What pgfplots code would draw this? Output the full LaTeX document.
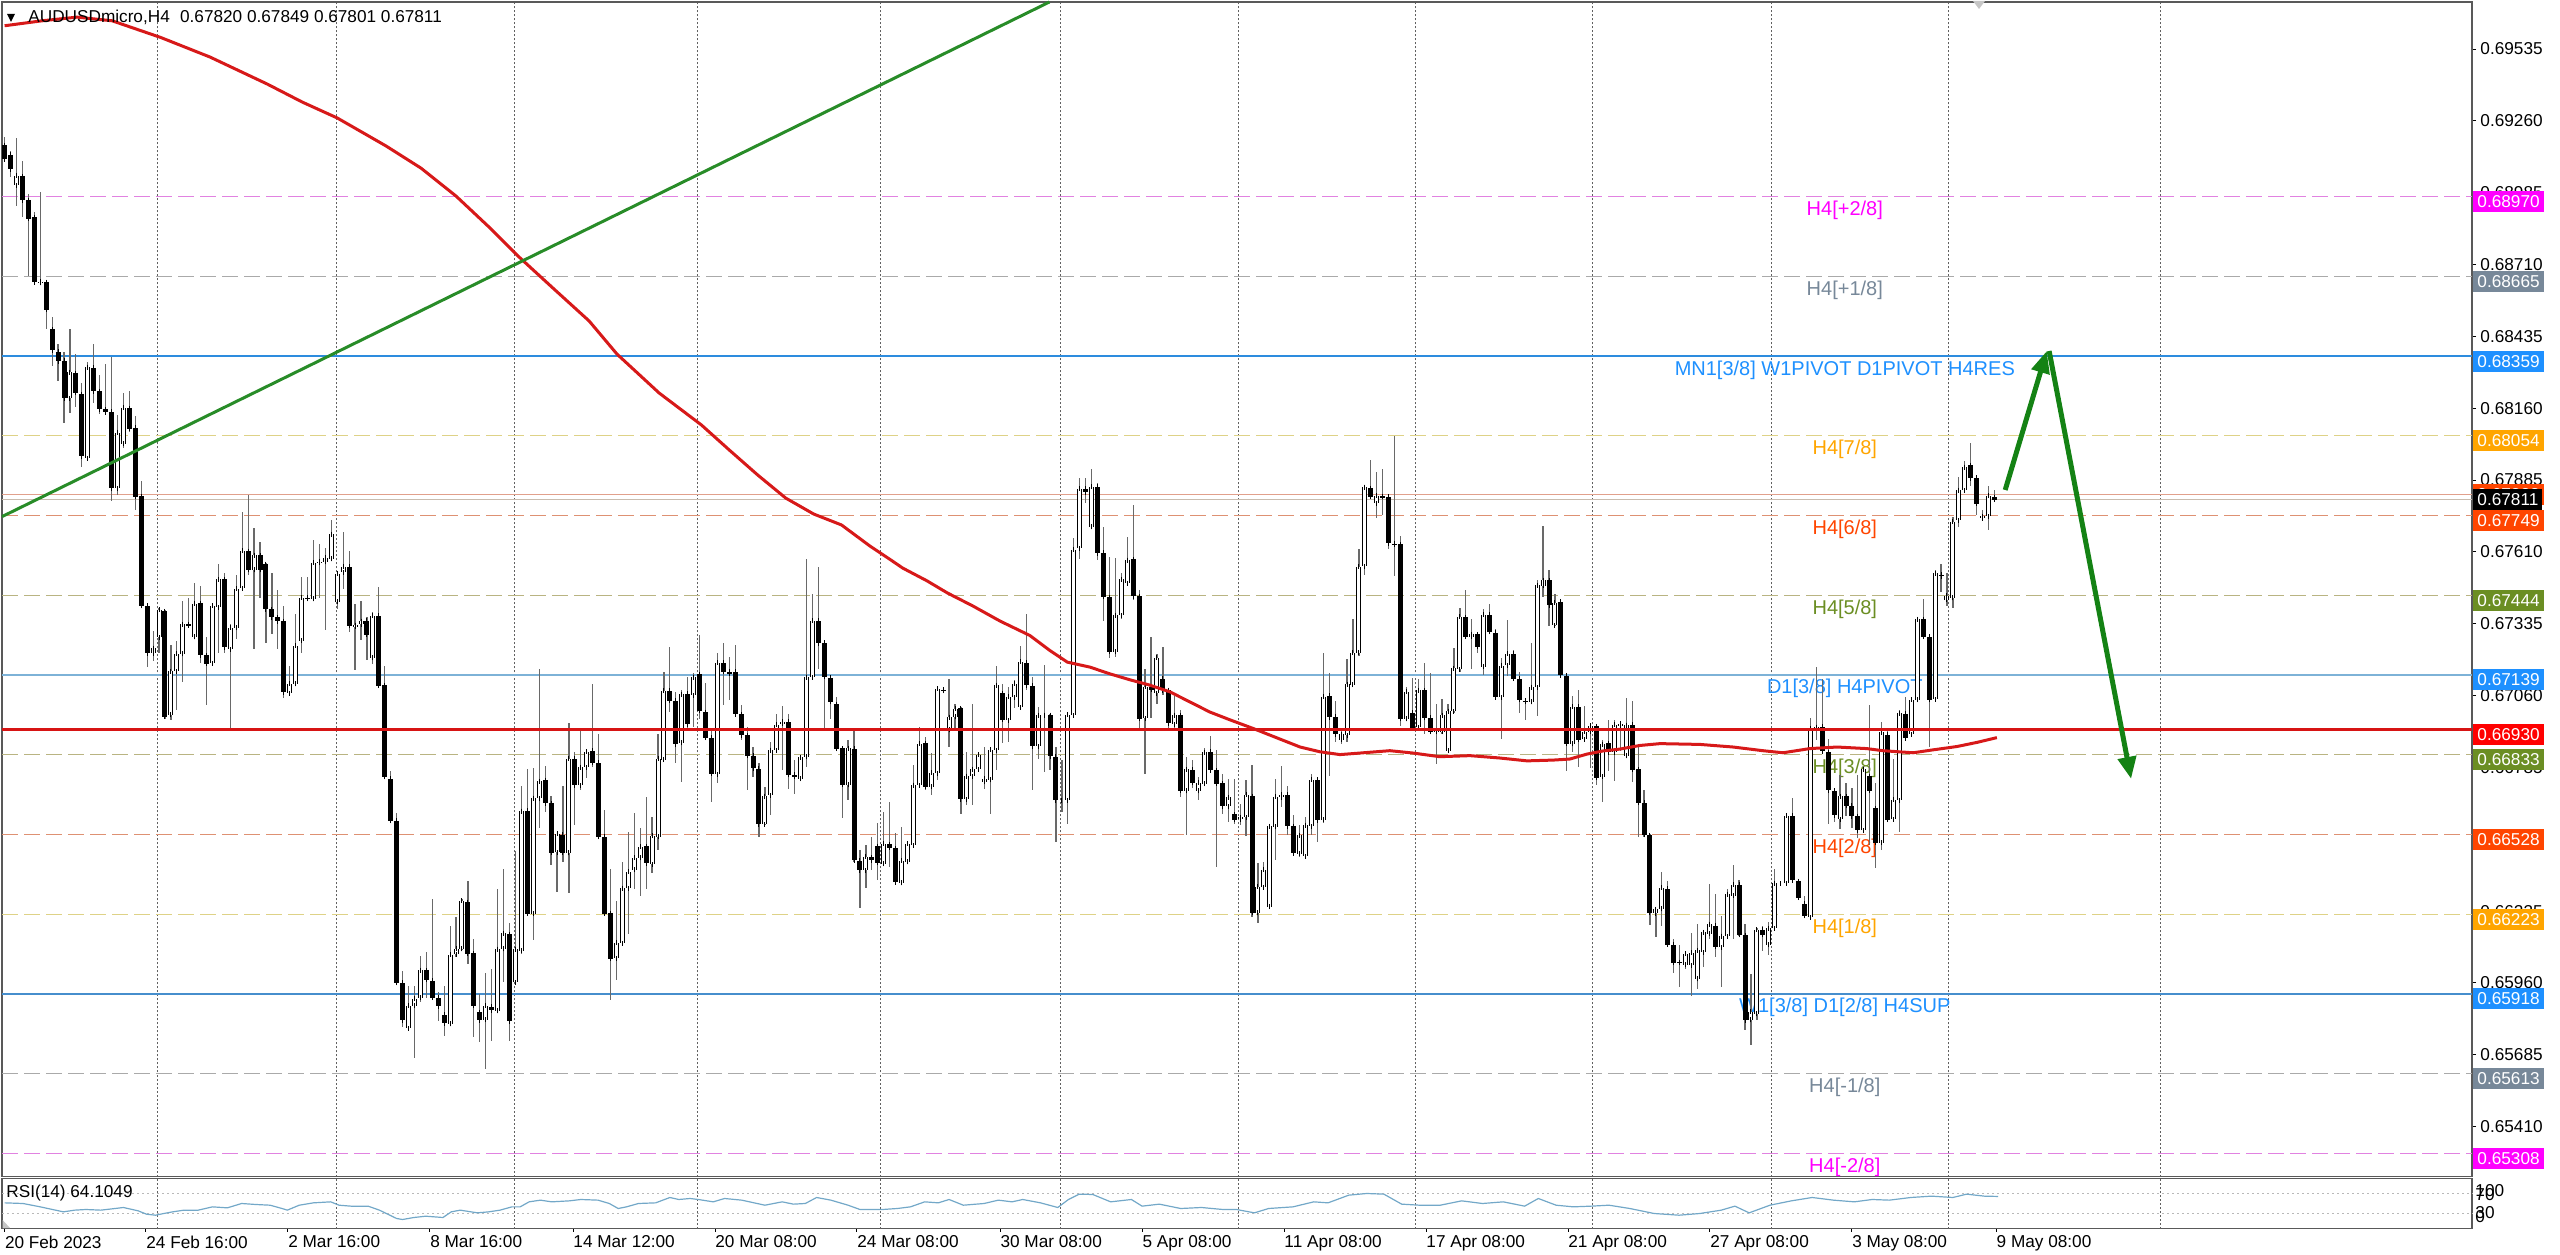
\documentclass[border=0pt]{standalone}
\usepackage{fontspec}
\setmainfont{Liberation Sans}
\usepackage{pgfplots}
\pgfplotsset{compat=1.18}
\usepackage{pgfplotstable}
\usetikzlibrary{arrows.meta}
\newcommand{\tickfont}{\fontsize{8.6}{10}\selectfont}
\newcommand{\lblfont}{\fontsize{10}{12}\selectfont}
\definecolor{mmag}{RGB}{255,0,255}
\definecolor{mgray}{RGB}{119,136,153}
\definecolor{mblue}{RGB}{30,144,255}
\definecolor{morange}{RGB}{255,165,0}
\definecolor{mored}{RGB}{255,69,0}
\definecolor{molive}{RGB}{107,142,35}
\definecolor{mred}{RGB}{255,0,0}
\definecolor{lmag}{RGB}{225,130,225}
\definecolor{lgray}{RGB}{170,170,170}
\definecolor{lyellow}{RGB}{222,210,135}
\definecolor{lsalmon}{RGB}{222,145,115}
\definecolor{lolive}{RGB}{185,180,130}
\definecolor{rsiblue}{RGB}{115,168,200}
\definecolor{wickc}{RGB}{105,105,105}
\definecolor{mared}{RGB}{215,25,25}
\definecolor{hred}{RGB}{215,20,20}
\definecolor{tgreen}{RGB}{40,140,40}
\definecolor{agreen}{RGB}{20,130,20}
\definecolor{bidc}{RGB}{200,188,175}
\definecolor{askc}{RGB}{225,160,140}
\definecolor{blueA}{RGB}{45,140,222}
\definecolor{blueB}{RGB}{70,142,205}
\definecolor{blueC}{RGB}{125,178,215}

\pgfplotstableread{
i o h l c
0 0.69169 0.69200 0.69106 0.69114
1 0.69130 0.69146 0.69044 0.69075
2 0.69015 0.69193 0.68934 0.69051
3 0.69048 0.69106 0.68894 0.68957
4 0.68957 0.68981 0.68667 0.68887
5 0.68891 0.68910 0.68639 0.68643
6 0.68640 0.68989 0.68636 0.68645
7 0.68643 0.68651 0.68463 0.68538
8 0.68463 0.68510 0.68322 0.68381
9 0.68377 0.68408 0.68267 0.68341
10 0.68341 0.68377 0.68102 0.68199
11 0.68199 0.68463 0.68141 0.68298
12 0.68295 0.68369 0.68165 0.68220
13 0.68215 0.68259 0.67937 0.67977
14 0.67969 0.68338 0.67961 0.68317
15 0.68314 0.68408 0.68181 0.68225
16 0.68225 0.68290 0.68141 0.68157
17 0.68157 0.68330 0.68141 0.68146
18 0.68146 0.68356 0.67804 0.67854
19 0.67854 0.68134 0.67828 0.68068
20 0.68024 0.68220 0.68008 0.68162
21 0.68162 0.68228 0.68071 0.68083
22 0.68086 0.68130 0.67773 0.67823
23 0.67823 0.67882 0.67396 0.67404
24 0.67404 0.67412 0.67168 0.67223
25 0.67223 0.67310 0.67192 0.67242
26 0.67283 0.67396 0.67223 0.67388
27 0.67383 0.67388 0.66972 0.66980
28 0.66988 0.67255 0.66965 0.67153
29 0.67153 0.67271 0.67004 0.67220
30 0.67220 0.67424 0.67113 0.67333
31 0.67333 0.67435 0.67325 0.67330
32 0.67286 0.67490 0.67278 0.67412
33 0.67415 0.67482 0.67184 0.67215
34 0.67215 0.67286 0.67027 0.67184
35 0.67184 0.67412 0.67176 0.67404
36 0.67399 0.67566 0.67223 0.67506
37 0.67506 0.67530 0.67223 0.67247
38 0.67239 0.67333 0.66933 0.67322
39 0.67321 0.67522 0.67278 0.67470
40 0.67470 0.67765 0.67467 0.67613
41 0.67613 0.67828 0.67522 0.67541
42 0.67541 0.67702 0.67239 0.67597
43 0.67597 0.67647 0.67435 0.67541
44 0.67564 0.67569 0.67263 0.67391
45 0.67391 0.67530 0.67294 0.67361
46 0.67361 0.67467 0.67239 0.67346
47 0.67346 0.67404 0.67051 0.67074
48 0.67070 0.67176 0.67067 0.67106
49 0.67106 0.67372 0.67101 0.67252
50 0.67271 0.67514 0.67223 0.67435
51 0.67435 0.67514 0.67428 0.67431
52 0.67431 0.67655 0.67428 0.67569
53 0.67569 0.67639 0.67435 0.67572
54 0.67572 0.67624 0.67310 0.67588
55 0.67584 0.67733 0.67584 0.67678
56 0.67420 0.67538 0.67390 0.67527
57 0.67533 0.67689 0.67469 0.67553
58 0.67553 0.67613 0.67303 0.67326
59 0.67326 0.67409 0.67159 0.67330
60 0.67333 0.67424 0.67273 0.67345
61 0.67348 0.67364 0.67197 0.67295
62 0.67205 0.67382 0.67182 0.67367
63 0.67367 0.67474 0.67094 0.67099
64 0.67099 0.67174 0.66743 0.66748
65 0.66743 0.66774 0.66574 0.66581
66 0.66581 0.66610 0.65956 0.65961
67 0.65961 0.66005 0.65793 0.65817
68 0.65787 0.65949 0.65783 0.65873
69 0.65873 0.65949 0.65672 0.65899
70 0.65904 0.66065 0.65888 0.66009
71 0.66009 0.66077 0.65904 0.65972
72 0.65969 0.66282 0.65896 0.65904
73 0.65904 0.65926 0.65813 0.65873
74 0.65839 0.65949 0.65757 0.65805
75 0.65805 0.66176 0.65798 0.66070
76 0.66070 0.66214 0.66059 0.66090
77 0.66090 0.66282 0.66085 0.66274
78 0.66271 0.66350 0.66032 0.66074
79 0.66074 0.66130 0.65752 0.65873
80 0.65848 0.65918 0.65733 0.65817
81 0.65820 0.65999 0.65631 0.65873
82 0.65869 0.66014 0.65737 0.65854
83 0.65854 0.66320 0.65848 0.66090
84 0.66090 0.66395 0.65964 0.66150
85 0.66146 0.66191 0.65737 0.65813
86 0.65964 0.66463 0.65956 0.66090
87 0.66085 0.66713 0.66070 0.66619
88 0.66619 0.66778 0.66221 0.66226
89 0.66226 0.66781 0.66123 0.66668
90 0.66668 0.67162 0.66554 0.66733
91 0.66736 0.66792 0.66615 0.66648
92 0.66648 0.66675 0.66413 0.66460
93 0.66460 0.66531 0.66308 0.66531
94 0.66528 0.66713 0.66425 0.66459
95 0.66459 0.66955 0.66305 0.66819
96 0.66819 0.66846 0.66566 0.66717
97 0.66717 0.66925 0.66701 0.66786
98 0.66786 0.66857 0.66746 0.66846
99 0.66849 0.67106 0.66789 0.66804
100 0.66804 0.66913 0.66513 0.66521
101 0.66521 0.66622 0.66221 0.66226
102 0.66229 0.66395 0.65896 0.66055
103 0.66055 0.66274 0.65972 0.66115
104 0.66112 0.66422 0.66108 0.66323
105 0.66323 0.66539 0.66146 0.66388
106 0.66395 0.66610 0.66320 0.66441
107 0.66441 0.66554 0.66292 0.66483
108 0.66483 0.66675 0.66320 0.66418
109 0.66415 0.66595 0.66380 0.66524
110 0.66521 0.66913 0.66468 0.66819
111 0.66816 0.67149 0.66816 0.67079
112 0.67079 0.67247 0.66998 0.67041
113 0.67041 0.67075 0.66803 0.66875
114 0.66880 0.67081 0.66730 0.67066
115 0.67068 0.67132 0.66928 0.66951
116 0.67062 0.67145 0.66941 0.67132
117 0.67142 0.67292 0.66969 0.67002
118 0.66998 0.67109 0.66892 0.66900
119 0.66900 0.66928 0.66654 0.66762
120 0.66760 0.67224 0.66724 0.67186
121 0.67186 0.67260 0.67024 0.67151
122 0.67151 0.67209 0.67043 0.67145
123 0.67151 0.67253 0.66979 0.66989
124 0.66989 0.67024 0.66892 0.66909
125 0.66909 0.66941 0.66701 0.66829
126 0.66829 0.66862 0.66750 0.66781
127 0.66781 0.66801 0.66520 0.66568
128 0.66568 0.66711 0.66565 0.66676
129 0.66679 0.66883 0.66603 0.66852
130 0.66852 0.66992 0.66845 0.66950
131 0.66954 0.67020 0.66775 0.66960
132 0.66960 0.66992 0.66705 0.66756
133 0.66756 0.66816 0.66686 0.66750
134 0.66743 0.66826 0.66737 0.66824
135 0.66826 0.67585 0.66788 0.67132
136 0.67130 0.67451 0.67126 0.67347
137 0.67347 0.67553 0.67164 0.67260
138 0.67262 0.67266 0.66928 0.67132
139 0.67130 0.67132 0.66969 0.67037
140 0.67028 0.67056 0.66852 0.66858
141 0.66858 0.66864 0.66590 0.66718
142 0.66718 0.66890 0.66660 0.66858
143 0.66858 0.66935 0.66424 0.66430
144 0.66428 0.66469 0.66246 0.66392
145 0.66392 0.66488 0.66322 0.66443
146 0.66441 0.66520 0.66392 0.66430
147 0.66484 0.66573 0.66354 0.66420
148 0.66418 0.66616 0.66411 0.66494
149 0.66492 0.66654 0.66405 0.66479
150 0.66475 0.66533 0.66335 0.66344
151 0.66344 0.66558 0.66341 0.66428
152 0.66424 0.66505 0.66418 0.66494
153 0.66488 0.66794 0.66482 0.66718
154 0.66718 0.66941 0.66705 0.66877
155 0.66877 0.66903 0.66701 0.66711
156 0.66711 0.66839 0.66679 0.66765
157 0.66765 0.67094 0.66737 0.67088
158 0.67084 0.67088 0.67075 0.67079
159 0.66928 0.67126 0.66864 0.66977
160 0.66979 0.67030 0.66928 0.67011
161 0.67011 0.67017 0.66609 0.66663
162 0.66663 0.66845 0.66641 0.66752
163 0.66752 0.67030 0.66641 0.66778
164 0.66778 0.66845 0.66769 0.66833
165 0.66730 0.66864 0.66705 0.66743
166 0.66739 0.66864 0.66609 0.66854
167 0.66852 0.67173 0.66775 0.67100
168 0.67069 0.67107 0.66880 0.66969
169 0.66966 0.67094 0.66884 0.67056
170 0.67056 0.67120 0.67011 0.67107
171 0.67017 0.67250 0.67005 0.67190
172 0.67186 0.67372 0.67081 0.67100
173 0.67098 0.67132 0.66699 0.66867
174 0.66867 0.67017 0.66816 0.66986
175 0.66986 0.67177 0.66769 0.66986
176 0.66986 0.66992 0.66775 0.66829
177 0.66826 0.66864 0.66501 0.66660
178 0.66660 0.66813 0.66616 0.66660
179 0.66660 0.66998 0.66571 0.66986
180 0.66986 0.67662 0.66979 0.67620
181 0.67624 0.67892 0.67585 0.67853
182 0.67853 0.67892 0.67796 0.67840
183 0.67706 0.67926 0.67704 0.67860
184 0.67860 0.67875 0.67578 0.67607
185 0.67607 0.67706 0.67347 0.67438
186 0.67438 0.67592 0.67202 0.67228
187 0.67228 0.67585 0.67209 0.67368
188 0.67368 0.67528 0.67352 0.67505
189 0.67490 0.67668 0.67483 0.67578
190 0.67581 0.67789 0.67426 0.67441
191 0.67441 0.67464 0.66935 0.66973
192 0.66973 0.67164 0.66762 0.67094
193 0.67094 0.67283 0.66973 0.67084
194 0.67069 0.67222 0.67030 0.67206
195 0.67126 0.67247 0.67062 0.67081
196 0.67081 0.67088 0.66928 0.66954
197 0.66951 0.67058 0.66935 0.66986
198 0.66986 0.67005 0.66671 0.66696
199 0.66696 0.66824 0.66526 0.66778
200 0.66778 0.66813 0.66705 0.66727
201 0.66696 0.66750 0.66663 0.66727
202 0.66724 0.66858 0.66718 0.66845
203 0.66845 0.66905 0.66772 0.66775
204 0.66775 0.66854 0.66405 0.66724
205 0.66724 0.66762 0.66609 0.66637
206 0.66637 0.66739 0.66577 0.66671
207 0.66607 0.66743 0.66568 0.66586
208 0.66586 0.66647 0.66565 0.66594
209 0.66594 0.66737 0.66522 0.66680
210 0.66676 0.66794 0.66214 0.66229
211 0.66229 0.66420 0.66188 0.66328
212 0.66328 0.66424 0.66322 0.66395
213 0.66254 0.66565 0.66252 0.66561
214 0.66558 0.66739 0.66431 0.66673
215 0.66671 0.66790 0.66635 0.66680
216 0.66680 0.66714 0.66526 0.66561
217 0.66561 0.66603 0.66450 0.66456
218 0.66456 0.66565 0.66443 0.66526
219 0.66446 0.66596 0.66443 0.66565
220 0.66561 0.66762 0.66526 0.66739
221 0.66739 0.66750 0.66501 0.66584
222 0.66584 0.67222 0.66571 0.67056
223 0.67060 0.67146 0.66751 0.66979
224 0.66979 0.67041 0.66882 0.66913
225 0.66892 0.66929 0.66876 0.66913
226 0.66909 0.67203 0.66882 0.67103
227 0.67103 0.67353 0.67100 0.67225
228 0.67225 0.67621 0.67212 0.67555
229 0.67555 0.67864 0.67522 0.67858
230 0.67855 0.67963 0.67818 0.67822
231 0.67796 0.67917 0.67739 0.67825
232 0.67825 0.67930 0.67752 0.67822
233 0.67822 0.67825 0.67621 0.67643
234 0.67643 0.68055 0.67519 0.67640
235 0.67640 0.67673 0.66944 0.66971
236 0.66971 0.67093 0.66968 0.67076
237 0.66995 0.67126 0.66929 0.66935
238 0.66939 0.67124 0.66931 0.67080
239 0.67080 0.67186 0.66915 0.66975
240 0.66975 0.67146 0.66915 0.66922
241 0.66922 0.67031 0.66800 0.66926
242 0.66922 0.67047 0.66915 0.66984
243 0.66850 0.67027 0.66847 0.67001
244 0.67001 0.67242 0.66995 0.67166
245 0.67163 0.67397 0.67153 0.67364
246 0.67361 0.67466 0.67278 0.67287
247 0.67287 0.67353 0.67163 0.67295
248 0.67295 0.67300 0.67225 0.67248
249 0.67172 0.67393 0.67139 0.67370
250 0.67370 0.67410 0.67298 0.67304
251 0.67300 0.67317 0.67050 0.67054
252 0.67054 0.67205 0.66896 0.67176
253 0.67176 0.67348 0.67137 0.67221
254 0.67221 0.67234 0.67124 0.67126
255 0.67124 0.67153 0.66995 0.67045
256 0.67041 0.67047 0.66968 0.67037
257 0.67037 0.67261 0.67027 0.67093
258 0.67093 0.67502 0.66984 0.67482
259 0.67482 0.67709 0.67436 0.67502
260 0.67502 0.67541 0.67327 0.67406
261 0.67331 0.67449 0.67327 0.67416
262 0.67419 0.67423 0.67133 0.67137
263 0.67137 0.67142 0.66773 0.66876
264 0.66876 0.67060 0.66843 0.67018
265 0.67018 0.67080 0.66786 0.66892
266 0.66892 0.67021 0.66886 0.66922
267 0.66922 0.66955 0.66784 0.66944
268 0.66944 0.66948 0.66718 0.66747
269 0.66751 0.66889 0.66652 0.66876
270 0.66878 0.66968 0.66770 0.66843
271 0.66843 0.66968 0.66734 0.66948
272 0.66944 0.66962 0.66850 0.66952
273 0.66830 0.67054 0.66823 0.66948
274 0.66948 0.67041 0.66731 0.66777
275 0.66777 0.66863 0.66520 0.66649
276 0.66649 0.66698 0.66520 0.66527
277 0.66527 0.66533 0.66184 0.66230
278 0.66227 0.66243 0.66138 0.66243
279 0.66244 0.66384 0.66178 0.66326
280 0.66322 0.66350 0.66100 0.66108
281 0.66108 0.66131 0.65999 0.66038
282 0.66038 0.66108 0.65944 0.66040
283 0.66030 0.66084 0.66014 0.66072
284 0.66030 0.66154 0.65913 0.66077
285 0.65975 0.66186 0.65936 0.66084
286 0.66077 0.66162 0.66022 0.66154
287 0.66150 0.66342 0.66131 0.66186
288 0.66181 0.66300 0.66061 0.66100
289 0.66097 0.66217 0.65944 0.66139
290 0.66139 0.66319 0.66131 0.66300
291 0.66295 0.66412 0.66131 0.66337
292 0.66337 0.66353 0.66139 0.66144
293 0.66144 0.66186 0.65780 0.65819
294 0.65819 0.65994 0.65725 0.65850
295 0.65842 0.66170 0.65819 0.66165
296 0.66165 0.66178 0.66084 0.66144
297 0.66108 0.66194 0.66069 0.66170
298 0.66170 0.66397 0.66162 0.66342
299 0.66342 0.66350 0.66334 0.66342
300 0.66342 0.66608 0.66334 0.66600
301 0.66600 0.66670 0.66342 0.66353
302 0.66350 0.66358 0.66280 0.66287
303 0.66264 0.66295 0.66209 0.66217
304 0.66212 0.66975 0.66209 0.66935
305 0.66935 0.67170 0.66889 0.66940
306 0.66940 0.67123 0.66842 0.66846
307 0.66842 0.66897 0.66568 0.66697
308 0.66697 0.66701 0.66576 0.66603
309 0.66587 0.66756 0.66550 0.66675
310 0.66675 0.66725 0.66600 0.66639
311 0.66639 0.66709 0.66553 0.66600
312 0.66600 0.66756 0.66514 0.66545
313 0.66545 0.66790 0.66537 0.66779
314 0.66753 0.67025 0.66490 0.66697
315 0.66631 0.66725 0.66400 0.66498
316 0.66498 0.66959 0.66467 0.66920
317 0.66912 0.66935 0.66576 0.66587
318 0.66587 0.66818 0.66584 0.66662
319 0.66659 0.67003 0.66537 0.66993
320 0.66990 0.67056 0.66893 0.66897
321 0.66912 0.67056 0.66904 0.67045
322 0.67045 0.67362 0.67040 0.67353
323 0.67353 0.67431 0.67279 0.67287
324 0.67287 0.67295 0.66865 0.67045
325 0.67045 0.67540 0.67040 0.67529
326 0.67524 0.67565 0.67459 0.67518
327 0.67428 0.67529 0.67404 0.67443
328 0.67435 0.67743 0.67396 0.67727
329 0.67732 0.67896 0.67706 0.67846
330 0.67846 0.67959 0.67842 0.67935
331 0.67943 0.68029 0.67865 0.67893
332 0.67893 0.67896 0.67752 0.67795
333 0.67740 0.67771 0.67732 0.67748
334 0.67748 0.67862 0.67696 0.67826
335 0.67820 0.67849 0.67801 0.67811
}\candles

\tikzset{
  lvl/.style={dash pattern=on 8pt off 3pt, line width=0.5pt},
  lbl/.style={anchor=north, inner sep=0pt, yshift=-2pt, font=\lblfont},
  pbox/.style={fill=#1, text=white, inner xsep=2pt, inner ysep=0pt, minimum height=10.5pt, anchor=west, font=\tickfont, yshift=-2.5pt, xshift=0.5pt},
  tlab/.style={anchor=west, inner sep=0pt, font=\tickfont, xshift=4pt},
  vgrid/.style={draw=gray!75!black, dash pattern=on 1pt off 1pt, line width=0.5pt}
}

\begin{document}
\begin{tikzpicture}
\useasboundingbox (0,0) rectangle (1280pt,627pt);

% ---------------- main pane ----------------
\begin{axis}[
  at={(1pt,38.75pt)}, anchor=south west,
  scale only axis, width=1235pt, height=587.25pt,
  xmin=-0.438, xmax=415.4, ymin=0.65219, ymax=0.69715,
  clip=false,
  axis line style={draw=gray!70!black, line width=0.6pt},
  xtick={25.8,55.8,85.8,116.6,147.5,177.7,207.7,237.6,267.4,297.4,327.3,363.0},
  xticklabels={}, xtick style={draw=none},
  xmajorgrids=true, grid style={vgrid},
  ytick={0.65410,0.65685,0.65960,0.66235,0.66510,0.66785,0.67060,0.67335,0.67610,0.67885,0.68160,0.68435,0.68710,0.68985,0.69260,0.69535},
  yticklabels={},
  ytick pos=right,
  tick align=outside, major tick length=2pt,
  ytick style={draw=black, line width=0.5pt},
]
% level lines
\addplot[lvl, draw=lmag] coordinates {(-0.438,0.68970) (415.4,0.68970)};
\addplot[lvl, draw=lgray] coordinates {(-0.438,0.68665) (415.4,0.68665)};
\addplot[draw=blueA, line width=1.25pt] coordinates {(-0.438,0.68359) (415.4,0.68359)};
\addplot[lvl, draw=lyellow] coordinates {(-0.438,0.68054) (415.4,0.68054)};
\addplot[draw=askc, line width=0.5pt] coordinates {(-0.438,0.67828) (415.4,0.67828)};
\addplot[draw=bidc, line width=0.5pt] coordinates {(-0.438,0.67811) (415.4,0.67811)};
\addplot[lvl, draw=lsalmon] coordinates {(-0.438,0.67749) (415.4,0.67749)};
\addplot[lvl, draw=lolive] coordinates {(-0.438,0.67444) (415.4,0.67444)};
\addplot[draw=blueC, line width=0.75pt] coordinates {(-0.438,0.67139) (415.4,0.67139)};
\addplot[lvl, draw=lolive] coordinates {(-0.438,0.66833) (415.4,0.66833)};
\addplot[lvl, draw=lsalmon] coordinates {(-0.438,0.66528) (415.4,0.66528)};
\addplot[lvl, draw=lyellow] coordinates {(-0.438,0.66223) (415.4,0.66223)};
\addplot[draw=blueB, line width=1pt] coordinates {(-0.438,0.65918) (415.4,0.65918)};
\addplot[lvl, draw=lgray] coordinates {(-0.438,0.65613) (415.4,0.65613)};
\addplot[lvl, draw=lmag] coordinates {(-0.438,0.65308) (415.4,0.65308)};

% level labels
\node[lbl, text=mmag] at (axis cs:309.8,0.68970) {H4[+2/8]};
\node[lbl, text=mgray] at (axis cs:309.8,0.68665) {H4[+1/8]};
\node[lbl, text=mblue] at (axis cs:309.8,0.68359) {MN1[3/8] W1PIVOT D1PIVOT H4RES};
\node[lbl, text=morange] at (axis cs:309.8,0.68054) {H4[7/8]};
\node[lbl, text=mored] at (axis cs:309.8,0.67749) {H4[6/8]};
\node[lbl, text=molive] at (axis cs:309.8,0.67444) {H4[5/8]};
\node[lbl, text=mblue] at (axis cs:309.8,0.67139) {D1[3/8] H4PIVOT};
\node[lbl, text=molive] at (axis cs:309.8,0.66833) {H4[3/8]};
\node[lbl, text=mored] at (axis cs:309.8,0.66528) {H4[2/8]};
\node[lbl, text=morange] at (axis cs:309.8,0.66223) {H4[1/8]};
\node[lbl, text=mblue] at (axis cs:309.8,0.65918) {W1[3/8] D1[2/8] H4SUP};
\node[lbl, text=mgray] at (axis cs:309.8,0.65613) {H4[-1/8]};
\node[lbl, text=mmag] at (axis cs:309.8,0.65308) {H4[-2/8]};

% candles: wicks
\addplot[draw=none, mark=none,
  error bars/.cd, y dir=both, y explicit, error mark=none,
  error bar style={draw=wickc, line width=0.6pt, solid}]
  table[x=i, y expr={(\thisrow{h}+\thisrow{l})/2}, y error expr={(\thisrow{h}-\thisrow{l})/2}] {\candles};
% bodies: black bar with end caps (all candles)
\addplot[draw=none, mark=none,
  error bars/.cd, y dir=both, y explicit, error mark=-,
  error mark options={draw=black, line width=0.5pt, mark size=1.25pt, solid},
  error bar style={draw=black, line width=2.5pt, solid}]
  table[x=i, y expr={(\thisrow{o}+\thisrow{c})/2}, y error expr={(\thisrow{c}-\thisrow{o})/2}] {\candles};
% bullish candles: white interior
\addplot[draw=none, mark=none,
  restrict expr to domain={\thisrow{c}-\thisrow{o}}{0.00003:1},
  error bars/.cd, y dir=both, y explicit, error mark=-,
  error mark options={draw=black, line width=0.5pt, mark size=1.25pt, solid},
  error bar style={draw=white, line width=1.5pt, solid}]
  table[x=i, y expr={(\thisrow{o}+\thisrow{c})/2}, y error expr={(\thisrow{c}-\thisrow{o})/2}] {\candles};

% red horizontal line
\addplot[draw=hred, line width=1.5pt] coordinates {(-0.438,0.66930) (415.4,0.66930)};
% moving average
\addplot[draw=mared, line width=1.5pt, line join=round] coordinates {
(0,0.69624) (6.3,0.69643) (12.2,0.69657) (18.1,0.69643) (26.3,0.69579) (34.6,0.69504) (44.2,0.69401) (50.1,0.69332) (56,0.69271) (64.2,0.69164) (70.1,0.69079) (76,0.68972) (81.9,0.68846) (86.6,0.68739) (92.5,0.68616) (98.4,0.68494) (103.1,0.68367) (110.2,0.68218) (117.3,0.68096) (122,0.68000) (126.8,0.67904) (131.5,0.67816) (136.2,0.67755) (140.9,0.67713) (145.7,0.67632) (149.2,0.67579) (151.2,0.67548) (155.3,0.67499) (158.7,0.67453) (163,0.67403) (167.6,0.67345) (172.6,0.67290) (176,0.67232) (178.9,0.67188) (182.7,0.67169) (186.1,0.67143) (189.5,0.67120) (192.8,0.67100) (196.2,0.67074) (199.6,0.67035) (202.9,0.66997) (206.3,0.66967) (210.2,0.66934) (214.2,0.66898) (218.1,0.66863) (221.4,0.66845) (224.8,0.66834) (228.2,0.66840) (233.2,0.66849) (237.1,0.66840) (241.6,0.66826) (246.7,0.66830) (251.7,0.66821) (256.3,0.66810) (260.7,0.66813) (263.5,0.66817) (266.4,0.66836) (269.1,0.66848) (271.9,0.66855) (275.3,0.66869) (278.7,0.66876) (285.4,0.66873) (291,0.66863) (296,0.66849) (299.4,0.66841) (303.9,0.66857) (308.5,0.66863) (313.5,0.66857) (316.2,0.66849) (321.3,0.66841) (324.6,0.66852) (328.7,0.66865) (332.1,0.66881) (335.4,0.66899)};
% trend line
\addplot[draw=tgreen, line width=1.5pt] coordinates {(-0.438,0.67745) (175.9,0.69715)};
% forecast arrows
\addplot[draw=agreen, line width=2.5pt, -{Triangle[length=11pt,width=9pt]}] coordinates {(336.8,0.67847) (343.8,0.68379)};
\addplot[draw=agreen, line width=2.5pt, -{Triangle[length=11pt,width=9pt]}] coordinates {(344.2,0.68379) (358,0.66741)};

% anchors for the price scale
\coordinate (t1) at (axis cs:415.4,0.65410);
\coordinate (t2) at (axis cs:415.4,0.65685);
\coordinate (t3) at (axis cs:415.4,0.65960);
\coordinate (t4) at (axis cs:415.4,0.66235);
\coordinate (t5) at (axis cs:415.4,0.66510);
\coordinate (t6) at (axis cs:415.4,0.66785);
\coordinate (t7) at (axis cs:415.4,0.67060);
\coordinate (t8) at (axis cs:415.4,0.67335);
\coordinate (t9) at (axis cs:415.4,0.67610);
\coordinate (t10) at (axis cs:415.4,0.67885);
\coordinate (t11) at (axis cs:415.4,0.68160);
\coordinate (t12) at (axis cs:415.4,0.68435);
\coordinate (t13) at (axis cs:415.4,0.68710);
\coordinate (t14) at (axis cs:415.4,0.68985);
\coordinate (t15) at (axis cs:415.4,0.69260);
\coordinate (t16) at (axis cs:415.4,0.69535);
\coordinate (b1) at (axis cs:415.4,0.68970);
\coordinate (b2) at (axis cs:415.4,0.68665);
\coordinate (b3) at (axis cs:415.4,0.68359);
\coordinate (b4) at (axis cs:415.4,0.68054);
\coordinate (bask) at (axis cs:415.4,0.67828);
\coordinate (bbid) at (axis cs:415.4,0.67811);
\coordinate (b6) at (axis cs:415.4,0.67749);
\coordinate (b7) at (axis cs:415.4,0.67444);
\coordinate (b8) at (axis cs:415.4,0.67139);
\coordinate (b9) at (axis cs:415.4,0.66930);
\coordinate (b10) at (axis cs:415.4,0.66833);
\coordinate (b11) at (axis cs:415.4,0.66528);
\coordinate (b12) at (axis cs:415.4,0.66223);
\coordinate (b13) at (axis cs:415.4,0.65918);
\coordinate (b14) at (axis cs:415.4,0.65613);
\coordinate (b15) at (axis cs:415.4,0.65308);
\end{axis}

% ---------------- RSI pane ----------------
\begin{axis}[
  at={(1pt,12.75pt)}, anchor=south west,
  scale only axis, width=1235pt, height=25pt,
  xmin=-0.438, xmax=415.4, ymin=0, ymax=100,
  clip=false,
  axis line style={draw=gray!70!black, line width=0.6pt},
  ytick=\empty,
  xtick={0,23.8,47.7,71.6,95.7,119.6,143.5,167.6,191.5,215.4,239.3,263.2,287.1,311,335.3},
  xticklabels={20 Feb 2023,24 Feb 16:00,2 Mar 16:00,8 Mar 16:00,14 Mar 12:00,20 Mar 08:00,24 Mar 08:00,30 Mar 08:00,5 Apr 08:00,11 Apr 08:00,17 Apr 08:00,21 Apr 08:00,27 Apr 08:00,3 May 08:00,9 May 08:00},
  xtick pos=bottom, tick align=outside, major tick length=1.5pt,
  xtick style={draw=black, line width=0.5pt},
  xticklabel style={font=\tickfont, anchor=north west, inner sep=0pt, yshift=-2pt},
  extra x ticks={25.8,55.8,85.8,116.6,147.5,177.7,207.7,237.6,267.4,297.4,327.3,363.0},
  extra x tick labels={},
  extra x tick style={grid=major, major tick length=0pt},
  grid style={vgrid},
]
\addplot[draw=gray!55, dash pattern=on 1pt off 1.5pt, line width=0.5pt] coordinates {(-0.438,70) (415.4,70)};
\addplot[draw=gray!55, dash pattern=on 1pt off 1.5pt, line width=0.5pt] coordinates {(-0.438,30) (415.4,30)};
\addplot[draw=rsiblue, line width=0.6pt] coordinates {
(0,51.3) (3.1,50) (6,43.3) (9.9,33.3) (11.8,36.7) (13.7,38) (16.2,36.7) (18.6,40) (20,42) (22.5,35.3) (23.9,28.6) (25.4,26.6) (26.8,30) (28.3,33.3) (30.2,36.7) (32.6,36.7) (35,43.3) (37.5,41.3) (39.9,50) (42.3,48) (44.7,46.6) (46.7,40) (47.6,36.7) (49.6,46.6) (52,51.3) (54.9,53.3) (56.3,46.6) (58.3,44.7) (61.2,44.7) (63.1,36.7) (66,20) (67,18) (68.9,22) (70.9,24.6) (73.8,22) (75.2,33.3) (76.7,36.7) (79.6,31.3) (81.5,33.3) (83.4,36.7) (85.4,43.3) (86.8,43.3) (88.3,53.3) (90.2,56.7) (92.1,53.3) (95.1,55.3) (97,58) (99.9,56.7) (101.8,50) (103.3,40) (104.7,43.3) (106.7,50) (109.6,51.3) (112,62) (113.5,58) (115.4,60) (116.8,58) (119.3,53.3) (121.2,60) (124.1,56.7) (128,46.6) (130.9,53.3) (132.8,48.7) (134.8,50) (136.7,62) (139.1,56.7) (142,46.6) (144,38) (145.9,38) (147.8,38) (150.3,40) (152.5,43.3) (154.9,53.3) (157.2,51.3) (159,58) (161.4,46.6) (164.9,50) (167.3,56.7) (169.6,53.3) (171.4,58) (174.4,51.3) (177.3,42) (179.1,58) (180.9,68.7) (183.2,68) (186.2,53.3) (189.7,58) (191.5,44.7) (194.4,48.7) (198,40) (201.5,42) (205.1,38) (207.4,38) (210.4,31.3) (212.8,40) (216.9,43.3) (220.4,53.3) (222.8,51.3) (226.3,66.7) (229.3,70) (232.2,68.7) (235.2,48.7) (238.2,46.6) (241.7,46.6) (245.3,55.3) (248.8,50) (252.3,53.3) (255.9,44.7) (258.2,60) (261.2,46.6) (264.1,43.3) (267.1,44.7) (270.1,46.6) (273.6,40) (277.7,30) (281.9,26.6) (285.4,30) (289,36.7) (291.3,44.7) (293.7,31.3) (297.2,46.6) (300.8,55.3) (304.3,62) (307.9,56.7) (311.4,53.3) (314.4,58) (317.3,56.7) (320.9,62) (324.4,64.7) (328,62) (330.3,68.7) (333.3,64.7) (335.6,64.1)};
\node[anchor=west, inner sep=0pt, font=\tickfont, xshift=2pt] at (axis cs:-0.438,70) {RSI(14) 64.1049};
\node[anchor=west, inner sep=0pt, font=\tickfont, xshift=1.5pt] at (axis cs:415.4,75) {100};
\node[anchor=west, inner sep=0pt, font=\tickfont, xshift=1.5pt] at (axis cs:415.4,67) {70};
\node[anchor=west, inner sep=0pt, font=\tickfont, xshift=1.5pt] at (axis cs:415.4,31) {30};
\node[anchor=west, inner sep=0pt, font=\tickfont, xshift=1.5pt] at (axis cs:415.4,23) {0};
\end{axis}

% price scale labels
\node[tlab] at (t1) {0.65410};
\node[tlab] at (t2) {0.65685};
\node[tlab] at (t3) {0.65960};
\node[tlab] at (t4) {0.66235};
\node[tlab] at (t5) {0.66510};
\node[tlab] at (t6) {0.66785};
\node[tlab] at (t7) {0.67060};
\node[tlab] at (t8) {0.67335};
\node[tlab] at (t9) {0.67610};
\node[tlab] at (t10) {0.67885};
\node[tlab] at (t11) {0.68160};
\node[tlab] at (t12) {0.68435};
\node[tlab] at (t13) {0.68710};
\node[tlab] at (t14) {0.68985};
\node[tlab] at (t15) {0.69260};
\node[tlab] at (t16) {0.69535};

% price boxes on the right scale
\node[pbox=mmag] at (b1) {0.68970};
\node[pbox=mgray] at (b2) {0.68665};
\node[pbox=mblue] at (b3) {0.68359};
\node[pbox=morange] at (b4) {0.68054};
\node[pbox=mored, yshift=2.5pt] at (bask) {0.67828};
\node[pbox=black, yshift=2.5pt] at (bbid) {0.67811};
\node[pbox=mored] at (b6) {0.67749};
\node[pbox=molive] at (b7) {0.67444};
\node[pbox=mblue] at (b8) {0.67139};
\node[pbox=mred] at (b9) {0.66930};
\node[pbox=molive] at (b10) {0.66833};
\node[pbox=mored] at (b11) {0.66528};
\node[pbox=morange] at (b12) {0.66223};
\node[pbox=mblue] at (b13) {0.65918};
\node[pbox=mgray] at (b14) {0.65613};
\node[pbox=mmag] at (b15) {0.65308};

% header
\fill[black] (3.5pt,620pt) -- (7.5pt,620pt) -- (5.5pt,616pt) -- cycle;
\node[anchor=west, inner sep=0pt, font=\tickfont] at (14pt,618.5pt) {AUDUSDmicro,H4\hspace{0.6em}0.67820 0.67849 0.67801 0.67811};
% chart shift marker
\fill[gray!45] (986.5pt,626.5pt) -- (992.5pt,626.5pt) -- (989.5pt,622.5pt) -- cycle;
% RSI corner marker
\fill[gray!45] (1.3pt,13pt) -- (5pt,13pt) -- (1.3pt,17pt) -- cycle;
\end{tikzpicture}
\end{document}
